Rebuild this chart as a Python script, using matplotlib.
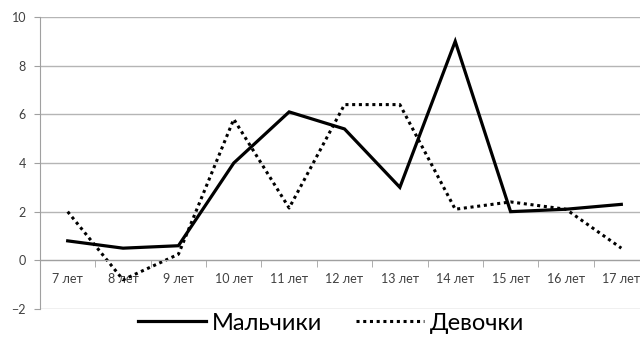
import matplotlib.pyplot as plt
import numpy as np

plt.rcParams['font.family'] = ['Lato', 'DejaVu Sans']

# Возрастные группы и средние значения по полу
ages = ['7 лет', '8 лет', '9 лет', '10 лет', '11 лет', '12 лет',
        '13 лет', '14 лет', '15 лет', '16 лет', '17 лет']
boys = [0.8, 0.5, 0.6, 4.0, 6.1, 5.4, 3.0, 9.0, 2.0, 2.1, 2.3]
girls = [2.0, -0.8, 0.25, 5.8, 2.15, 6.4, 6.4, 2.1, 2.4, 2.1, 0.5]

fig = plt.figure(figsize=(6.4, 3.38), dpi=100)
ax = fig.add_axes([40 / 640, 1 - 309 / 338, 609 / 640, 292 / 338])

x = np.arange(len(ages))
ax.plot(x, boys, color='black', linewidth=2.3, label='Мальчики',
        solid_joinstyle='miter')
ax.plot(x, girls, color='black', linewidth=2.2, linestyle=(0, (1, 1.2)),
        label='Девочки')

ax.set_xlim(-0.5, len(ages) - 0.5)
ax.set_ylim(-2, 10)
ax.set_yticks(range(-2, 11, 2))
ax.yaxis.grid(True, color='#b5b5b5', linewidth=1)
ax.set_axisbelow(True)

# Ось категорий проходит через ноль
for side in ['top', 'right']:
    ax.spines[side].set_visible(False)
ax.spines['bottom'].set_position(('data', 0))
ax.spines['bottom'].set_color('#a0a0a0')
ax.spines['left'].set_color('#a0a0a0')

ax.set_xticks(x)
ax.set_xticklabels(ages, fontsize=9, color='#404040')
ax.set_xticks(np.arange(0.5, len(ages) - 0.5), minor=True)
ax.tick_params(axis='x', which='major', length=0, pad=9)
ax.tick_params(axis='x', which='minor', length=5, color='#a0a0a0')
ax.tick_params(axis='y', length=4, color='#a0a0a0', labelsize=9,
               labelcolor='#404040', pad=6)

fig.legend(loc='center', bbox_to_anchor=(331 / 640, 1 - 323 / 338),
           ncol=2, frameon=False, fontsize=17, handlelength=2.9,
           columnspacing=1.4, handletextpad=0.25)

fig.savefig('out.png', dpi=100)
